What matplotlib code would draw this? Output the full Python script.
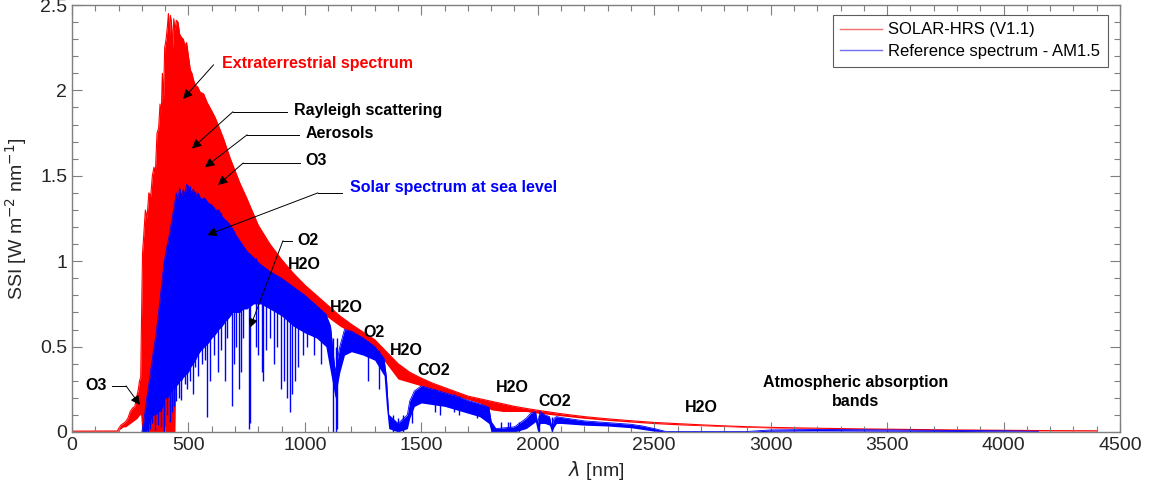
import numpy as np
import matplotlib
matplotlib.use("Agg")
import matplotlib.pyplot as plt
from matplotlib.lines import Line2D
from matplotlib.ticker import MultipleLocator

plt.rcParams['font.family'] = ['Liberation Sans', 'DejaVu Sans']

# ---------------- data ----------------
# SOLAR-HRS extraterrestrial spectrum: upper / lower edge of the dense band of lines
red_wl = [0, 195, 200, 210, 220, 230, 240, 250, 260, 270, 280, 285, 290, 295,
          300, 303, 308, 315, 322, 330, 338, 345, 352, 358, 365, 372, 378, 383, 388, 393, 398,
          404, 410, 414, 418, 422, 427, 432, 437, 442, 448, 455, 462, 470, 478, 485, 492,
          500, 508, 515, 522, 530, 540, 550, 565, 580, 600, 615, 630, 650, 665, 680, 700,
          720, 750, 775, 800, 850, 900, 950, 1000, 1050, 1100, 1150, 1200, 1250, 1300, 1350,
          1400, 1450, 1500, 1550, 1600, 1650, 1700, 1750, 1800, 1850, 1900, 1950, 2000, 2100,
          2200, 2300, 2400, 2500, 2600, 2700, 2800, 2900, 3000, 3200, 3400, 3600, 3800, 4000,
          4200, 4400]
red_top = [0.005, 0.006, 0.02, 0.04, 0.05, 0.06, 0.08, 0.12, 0.14, 0.15, 0.22, 0.25, 0.30, 0.32,
           0.80, 1.05, 1.15, 1.30, 1.25, 1.40, 1.38, 1.50, 1.55, 1.52, 1.75, 1.78, 1.92, 1.85, 2.10, 1.95, 2.25,
           2.30, 2.38, 2.45, 2.30, 2.44, 2.40, 2.25, 2.42, 2.35, 2.41, 2.40, 2.33, 2.31, 2.30, 2.26, 2.28,
           2.20, 2.12, 2.10, 2.06, 2.03, 2.02, 1.99, 1.98, 1.93, 1.88, 1.84, 1.79, 1.72, 1.66, 1.60, 1.53,
           1.46, 1.37, 1.29, 1.21, 1.10, 1.01, 0.93, 0.86, 0.80, 0.74, 0.68, 0.63, 0.585, 0.54, 0.47,
           0.40, 0.35, 0.315, 0.285, 0.26, 0.235, 0.21, 0.195, 0.18, 0.165, 0.15, 0.138, 0.127, 0.107,
           0.09, 0.077, 0.066, 0.056, 0.049, 0.042, 0.036, 0.031, 0.027, 0.022, 0.018, 0.015, 0.012, 0.010,
           0.008, 0.007]
red_bot = [0.0, 0.0, 0.01, 0.02, 0.03, 0.03, 0.04, 0.05, 0.06, 0.07, 0.08, 0.09, 0.10, 0.10,
           0.0, 0.0, 0.0, 0.0, 0.0, 0.0, 0.0, 0.0, 0.0, 0.0, 0.0, 0.0, 0.0, 0.0, 0.0, 0.0, 0.0,
           0.0, 0.0, 0.0, 0.0, 0.0, 0.0, 0.0, 0.0, 0.0, 0.5, 0.5, 0.5, 0.5, 0.5, 0.5, 0.5,
           0.8, 0.8, 0.8, 0.8, 0.8, 0.8, 0.8, 0.8, 0.8, 0.8, 0.8, 0.8, 0.8, 0.8, 0.8, 0.8,
           0.8, 0.8, 0.8, 0.8, 0.8, 0.8, 0.8, 0.79, 0.73, 0.67, 0.62, 0.58, 0.54, 0.49, 0.40,
           0.31, 0.29, 0.27, 0.25, 0.23, 0.21, 0.19, 0.17, 0.13, 0.12, 0.12, 0.12, 0.11, 0.095,
           0.08, 0.068, 0.058, 0.049, 0.042, 0.037, 0.032, 0.027, 0.024, 0.019, 0.016, 0.013, 0.010, 0.008,
           0.006, 0.005]

# Reference spectrum AM1.5: solid band (top / bottom) of the dense lines
blue_wl = [300, 310, 320, 330, 340, 350, 360, 370, 380, 390, 400, 410, 420, 430, 440, 448, 455,
           462, 470, 478, 485, 492, 500, 510, 520, 530, 540, 555, 570, 585, 600, 615, 630,
           645, 660, 675, 690, 705, 720, 735, 750, 780, 810, 850, 900, 950, 1000, 1050, 1090,
           1110, 1130, 1150, 1170, 1200, 1250, 1300, 1340, 1350, 1360, 1400, 1440, 1450, 1470,
           1500, 1550, 1600, 1650, 1700, 1750, 1790, 1800, 1820, 1900, 1950, 1970, 1990, 2000,
           2010, 2030, 2050, 2060, 2070, 2080, 2100, 2200, 2300, 2400, 2450, 2500, 2550, 2900,
           3000, 3200, 3400, 3600, 3800, 4000, 4150]
blue_top = [0.0, 0.08, 0.19, 0.28, 0.38, 0.48, 0.56, 0.68, 0.80, 0.93, 1.03, 1.10, 1.17, 1.25, 1.33, 1.40, 1.36,
            1.43, 1.38, 1.42, 1.38, 1.45, 1.44, 1.40, 1.42, 1.38, 1.40, 1.36, 1.37, 1.34, 1.33, 1.30, 1.30,
            1.26, 1.24, 1.22, 1.19, 1.15, 1.12, 1.09, 1.06, 1.02, 0.98, 0.94, 0.90, 0.85, 0.80, 0.74, 0.69,
            0.62, 0.35, 0.50, 0.60, 0.59, 0.55, 0.50, 0.43, 0.32, 0.10, 0.05, 0.10, 0.18, 0.24,
            0.27, 0.25, 0.23, 0.21, 0.185, 0.165, 0.145, 0.06, 0.02, 0.03, 0.08, 0.11, 0.12, 0.05,
            0.12, 0.10, 0.09, 0.03, 0.08, 0.09, 0.085, 0.065, 0.055, 0.045, 0.035, 0.02, 0.003, 0.003,
            0.012, 0.015, 0.013, 0.011, 0.009, 0.007, 0.004]
blue_bot = [0.0, 0.0, 0.0, 0.05, 0.08, 0.10, 0.10, 0.12, 0.12, 0.15, 0.20, 0.20, 0.22, 0.25, 0.25, 0.27, 0.28,
            0.30, 0.30, 0.32, 0.33, 0.34, 0.35, 0.38, 0.40, 0.42, 0.45, 0.48, 0.50, 0.52, 0.55, 0.57, 0.60,
            0.62, 0.65, 0.67, 0.70, 0.70, 0.70, 0.72, 0.72, 0.75, 0.75, 0.72, 0.68, 0.62, 0.58, 0.55, 0.50,
            0.35, 0.20, 0.35, 0.45, 0.47, 0.45, 0.42, 0.33, 0.15, 0.02, 0.0, 0.02, 0.08, 0.15,
            0.17, 0.16, 0.15, 0.13, 0.11, 0.09, 0.05, 0.0, 0.0, 0.0, 0.02, 0.04, 0.06, 0.0,
            0.05, 0.05, 0.04, 0.0, 0.03, 0.05, 0.05, 0.04, 0.035, 0.025, 0.015, 0.005, 0.0, 0.0,
            0.004, 0.006, 0.005, 0.004, 0.003, 0.002, 0.001]

# deep absorption lines in the AM1.5 spectrum: wavelength, bottom, top
spk_wl = [325, 335, 345, 358, 368, 383, 393, 397, 410, 422, 431, 438, 447, 458, 467, 486,
          495, 505, 518, 527, 540, 558, 572, 580, 592, 610, 628, 640, 656, 665, 687, 695,
          705, 718, 727, 735, 760, 765, 790, 800, 815, 822, 835, 850, 866, 880, 898, 910,
          925, 935, 945, 958, 970, 990, 1010, 1040, 1070, 1120, 1135, 1140, 1270, 1320,
          1380, 1400, 1420, 1460, 1560, 1580, 1640, 1660, 1740, 1840, 1870, 1880, 1920,
          2005, 2060]
spk_lo = [0.0, 0.02, 0.05, 0.01, 0.04, 0.03, 0.0, 0.02, 0.10, 0.06, 0.12, 0.15, 0.18, 0.20, 0.19, 0.28,
          0.25, 0.30, 0.22, 0.38, 0.33, 0.40, 0.42, 0.09, 0.30, 0.45, 0.35, 0.48, 0.30, 0.55, 0.15, 0.40,
          0.50, 0.25, 0.35, 0.55, 0.02, 0.05, 0.50, 0.45, 0.35, 0.30, 0.48, 0.55, 0.40, 0.50, 0.25, 0.30,
          0.20, 0.12, 0.22, 0.30, 0.38, 0.45, 0.50, 0.45, 0.40, 0.0, 0.0, 0.02, 0.30, 0.25,
          0.0, 0.0, 0.0, 0.05, 0.12, 0.10, 0.12, 0.10, 0.08, 0.0, 0.0, 0.02, 0.0,
          0.0, 0.0]
spk_hi = [0.2, 0.28, 0.38, 0.5, 0.6, 0.8, 0.95, 1.0, 1.1, 1.15, 1.2, 1.3, 1.35, 1.38, 1.4, 1.42,
          1.43, 1.44, 1.42, 1.41, 1.40, 1.37, 1.36, 1.35, 1.33, 1.32, 1.30, 1.28, 1.24, 1.23, 1.18, 1.17,
          1.15, 1.12, 1.10, 1.08, 1.04, 1.04, 1.02, 0.98, 0.97, 0.96, 0.95, 0.93, 0.90, 0.89, 0.87, 0.86,
          0.85, 0.84, 0.83, 0.82, 0.80, 0.77, 0.74, 0.70, 0.66, 0.55, 0.50, 0.55, 0.53, 0.48,
          0.10, 0.08, 0.10, 0.20, 0.25, 0.24, 0.22, 0.21, 0.17, 0.06, 0.06, 0.06, 0.06,
          0.10, 0.09]

# ---------------- figure ----------------
fig = plt.figure(figsize=(11.6, 4.95), dpi=100)
ax = fig.add_axes([72 / 1160, 63 / 495, 1048 / 1160, 427 / 495])

RED = '#ff0000'
BLUE = '#0000ff'

ax.fill_between(red_wl, red_bot, red_top, color=RED, lw=0, zorder=1)
ax.plot(red_wl, red_top, color=RED, lw=0.8, zorder=1)
ax.fill_between(blue_wl, blue_bot, blue_top, color=BLUE, lw=0, zorder=2)
ax.plot(blue_wl, blue_top, color=BLUE, lw=0.6, zorder=2)
ax.vlines(spk_wl, spk_lo, spk_hi, color=BLUE, lw=1.0, zorder=2)

ax.set_xlim(0, 4500)
ax.set_ylim(0, 2.5)
ax.xaxis.set_major_locator(MultipleLocator(500))
ax.xaxis.set_minor_locator(MultipleLocator(100))
ax.yaxis.set_minor_locator(MultipleLocator(0.1))
ax.set_yticks([0, 0.5, 1, 1.5, 2, 2.5])
ax.set_yticklabels(['0', '0.5', '1', '1.5', '2', '2.5'])

GRAY = '#7f7f7f'
for s in ax.spines.values():
    s.set_color(GRAY)
    s.set_linewidth(1.0)
ax.tick_params(which='both', direction='in', top=True, right=True, color=GRAY,
               labelsize=14, labelcolor='#262626')
ax.tick_params(which='major', length=7, width=0.8)
ax.tick_params(which='minor', length=4, width=0.8)

ax.set_xlabel(r'$\lambda$ [nm]', fontsize=14, color='#262626', labelpad=4)
ax.set_ylabel(r'SSI [W m$^{-2}$ nm$^{-1}$]', fontsize=14, color='#262626', labelpad=8)

# legend
handles = [Line2D([], [], color='#f07070', lw=1.0), Line2D([], [], color='#7070f0', lw=1.0)]
leg = ax.legend(handles, ['SOLAR-HRS (V1.1)', 'Reference spectrum - AM1.5'], loc='upper right',
                bbox_to_anchor=(0.9885, 0.9766), fontsize=12, frameon=True, fancybox=False,
                edgecolor='#333333', handlelength=2.5, handletextpad=0.4, borderpad=0.45,
                labelspacing=0.4, borderaxespad=0)
leg.get_frame().set_linewidth(0.8)

# annotations
bold = dict(fontsize=11.5, fontweight='bold', va='center', ha='left')
ap = dict(arrowstyle='-|>', color='black', lw=0.7, mutation_scale=14, shrinkA=0, shrinkB=0)

ax.text(644, 2.16, 'Extraterrestrial spectrum', color=RED, **bold)
ax.annotate('', xy=(477, 1.95), xytext=(608, 2.15), arrowprops=ap)

ax.text(953, 1.885, 'Rayleigh scattering', color='black', **bold)
ax.plot([923, 691], [1.875, 1.875], color='black', lw=0.7)
ax.annotate('', xy=(515, 1.66), xytext=(691, 1.875), arrowprops=ap)

ax.text(1005, 1.75, 'Aerosols', color='black', **bold)
ax.plot([975, 752], [1.74, 1.74], color='black', lw=0.7)
ax.annotate('', xy=(571, 1.55), xytext=(752, 1.74), arrowprops=ap)

ax.text(1000, 1.59, 'O3', color='black', **bold)
ax.plot([978, 735], [1.575, 1.575], color='black', lw=0.7)
ax.annotate('', xy=(627, 1.446), xytext=(735, 1.575), arrowprops=ap)

ax.text(1194, 1.43, 'Solar spectrum at sea level', color=BLUE, **bold)
ax.plot([1160, 1056], [1.40, 1.40], color='black', lw=0.7)
ax.annotate('', xy=(580, 1.153), xytext=(1056, 1.40), arrowprops=ap)

ax.text(966, 1.12, 'O2', color='black', **bold)
ax.plot([944, 906], [1.12, 1.12], color='black', lw=0.7)
ax.annotate('', xy=(764, 0.61), xytext=(906, 1.12), arrowprops=ap)

ax.text(56, 0.27, 'O3', color='black', **bold)
ax.plot([172, 232], [0.27, 0.27], color='black', lw=0.7)
ax.annotate('', xy=(292, 0.158), xytext=(232, 0.27), arrowprops=ap)

for x, y, s in [(928, 0.98, 'H2O'), (1108, 0.73, 'H2O'), (1250, 0.58, 'O2'), (1365, 0.48, 'H2O'),
                (1481, 0.36, 'CO2'), (1820, 0.26, 'H2O'), (2001, 0.176, 'CO2'), (2632, 0.146, 'H2O')]:
    ax.text(x, y, s, color='black', **bold)

ax.text(3366, 0.234, 'Atmospheric absorption\nbands', color='black', fontsize=11.5,
        fontweight='bold', ha='center', va='center', linespacing=1.3)

fig.savefig('out.png', dpi=100)
